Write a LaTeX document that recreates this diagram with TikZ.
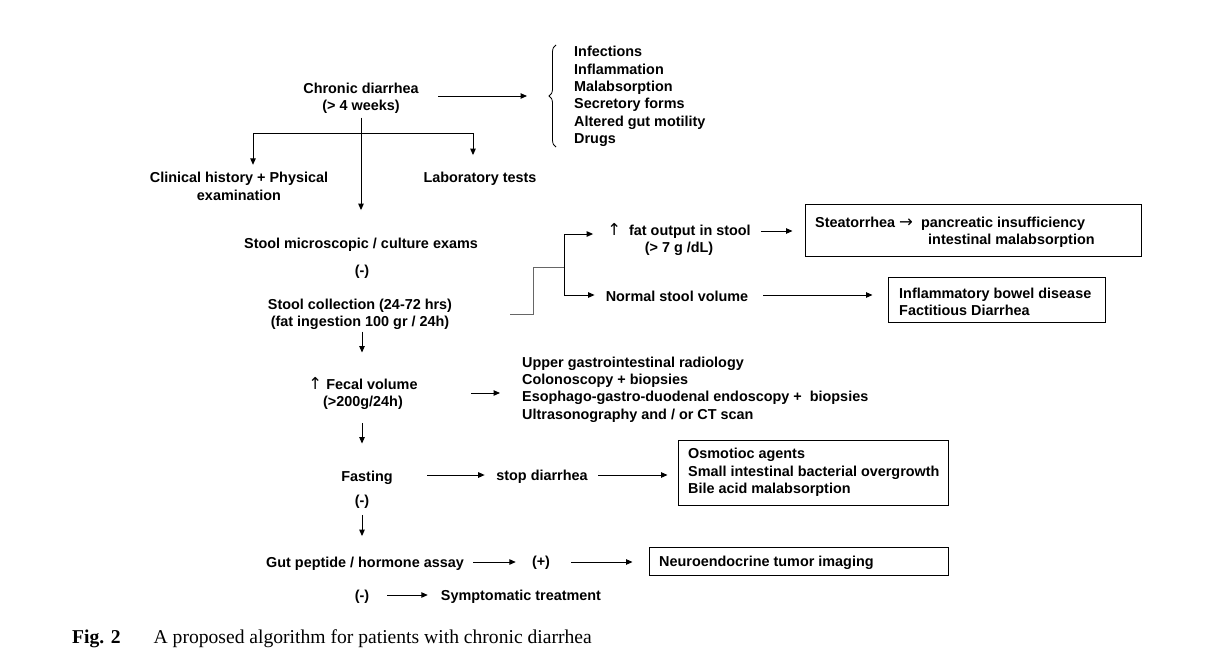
\documentclass[tikz,border=0pt]{standalone}
\usepackage{fontspec}
\setmainfont{Liberation Sans}
\newfontfamily\capfont{Liberation Serif}
\newfontfamily\arrfont{DejaVu Sans}
\newcommand\upar{{\arrfont\mdseries\fontsize{16.5}{17.4}\selectfont ↑}}
\newcommand\rtar{{\arrfont\mdseries\fontsize{16.5}{17.4}\selectfont →}}
\usetikzlibrary{arrows.meta,decorations.pathreplacing}
\begin{document}
\begin{tikzpicture}[x=1pt,y=-1pt,
  t/.style={font=\bfseries\fontsize{14.4}{17.4}\selectfont, inner sep=0pt, align=center, yshift=-1.5pt},
  tl/.style={t, align=left},
  bx/.style={draw, line width=1pt, inner sep=0pt},
  arr/.style={line width=1pt, -{Triangle[length=6.5pt,width=5.5pt]}},
  ln/.style={line width=1pt},
  gln/.style={line width=1pt, draw=black!60}]
\fill[white] (0,0) rectangle (1222,670);
\useasboundingbox (0,0) rectangle (1222,670);

% nodes
\node[t] (cd) at (361,97) {Chronic diarrhea\\(> 4 weeks)};
\node[tl, anchor=west] (causes) at (574,95) {Infections\\Inflammation\\Malabsorption\\Secretory forms\\Altered gut motility\\Drugs};
\node[t] (clin) at (239,185) {Clinical history + Physical\\examination};
\node[t] (lab) at (480,177) {Laboratory tests};
\node[t] (stool) at (361,243) {Stool microscopic / culture exams};
\node[t] (neg1) at (362,270) {(-)};
\node[t] (coll) at (360,313) {Stool collection (24-72 hrs)\\(fat ingestion 100 gr / 24h)};
\node[t] (fat) at (679,238) {\upar\ \ fat output in stool\\(> 7 g /dL)};
\node[t] (nsv) at (677,295) {Normal stool volume};
\node[bx, minimum width=336pt, minimum height=52pt] (box1) at (973,230) {};
\node[tl, anchor=west] (steat) at (815,231) {Steatorrhea \rtar\ \ pancreatic insufficiency\\\hspace*{113pt}intestinal malabsorption};
\node[bx, minimum width=217pt, minimum height=45pt] (box2) at (996.5,299.5) {};
\node[tl, anchor=west] (ibd) at (899,300.5) {Inflammatory bowel disease\\Factitious Diarrhea};
\node[t] (fec) at (363,392) {\upar\ Fecal volume\\(>200g/24h)};
\node[tl, anchor=west] (tests) at (522,388) {Upper gastrointestinal radiology\\Colonoscopy + biopsies\\Esophago-gastro-duodenal endoscopy +\ \ biopsies\\Ultrasonography and / or CT scan};
\node[t] (fast) at (367,476) {Fasting};
\node[t] (stop) at (542,475) {stop diarrhea};
\node[bx, minimum width=270pt, minimum height=65pt] (box3) at (813,472.5) {};
\node[tl, anchor=west] (osm) at (688,471) {Osmotioc agents\\Small intestinal bacterial overgrowth\\Bile acid malabsorption};
\node[t] (neg2) at (362,500) {(-)};
\node[t] (gut) at (365,562) {Gut peptide / hormone assay};
\node[t] (plus) at (541,561) {(+)};
\node[bx, minimum width=299pt, minimum height=28pt] (box4) at (798.5,561) {};
\node[tl, anchor=west] (neuro) at (659,561) {Neuroendocrine tumor imaging};
\node[t] (neg3) at (362,595) {(-)};
\node[t] (sym) at (521,595) {Symptomatic treatment};
\node[anchor=west, inner sep=0pt, yshift=-1.5pt, font=\capfont\fontsize{19.6}{22}\selectfont] (cap) at (72,637) {\textbf{Fig. 2}\hspace{33pt}A proposed algorithm for patients with chronic diarrhea};

% brace
\draw[line width=0.8pt, decorate, decoration={brace, amplitude=7pt}] (556,147) -- (556,45);

% connectors
\draw[arr, shorten <=19.5pt, shorten >=47pt] (cd.east |- 0,96) -- (causes.west |- 0,96);
\draw[arr, shorten <=3.5pt, shorten >=27.5pt] (cd.south) -- (cd.south |- stool.north);
\coordinate (bl) at (253,133);
\coordinate (bR) at (473,133);
\draw[ln] (bl) -- (bR);
\draw[arr, shorten >=7.5pt] (bl) -- (bl |- clin.north);
\draw[arr, shorten >=16.5pt] (bR) -- (bR |- lab.north);

\coordinate (j1) at (533,314);
\coordinate (j2) at (564,267);
\coordinate (jt) at (564,234);
\coordinate (jb) at (564,295);
\draw[gln, shorten <=58pt] (coll.east |- j1) -- (j1) |- (j2);
\draw[ln] (jt) -- (jb);
\draw[arr, shorten >=14pt] (jt) -- (jt -| fat.west);
\draw[arr, shorten >=11pt] (jb) -- (jb -| nsv.west);

\draw[arr, shorten <=10pt, shorten >=12pt] (fat.east |- 0,231) -- (box1.west |- 0,231);
\draw[arr, shorten <=15pt, shorten >=15pt] (nsv.east |- 0,295) -- (box2.west |- 0,295);

\draw[arr, shorten <=1.5pt, shorten >=24.5pt] (coll.south -| 362,0) -- (fec.north -| 362,0);
\draw[arr, shorten <=53.5pt, shorten >=22pt] (fec.east |- 0,393) -- (tests.west |- 0,393);
\draw[arr, shorten <=13.5pt, shorten >=27pt] (fec.south -| 362,0) -- (fast.north -| 362,0);
\draw[arr, shorten <=34.4pt, shorten >=11.5pt] (fast.east |- 0,475) -- (stop.west |- 0,475);
\draw[arr, shorten <=10.5pt, shorten >=10pt] (stop.east |- 0,475) -- (box3.west |- 0,475);
\draw[arr, shorten <=6.5pt, shorten >=20.5pt] (neg2.south -| 362,0) -- (gut.north -| 362,0);
\draw[arr, shorten <=9pt, shorten >=16pt] (gut.east |- 0,562) -- (plus.west |- 0,562);
\draw[arr, shorten <=21pt, shorten >=16pt] (plus.east |- 0,562) -- (box4.west |- 0,562);
\draw[arr, shorten <=18pt, shorten >=13pt] (neg3.east |- 0,595) -- (sym.west |- 0,595);
\end{tikzpicture}
\end{document}
